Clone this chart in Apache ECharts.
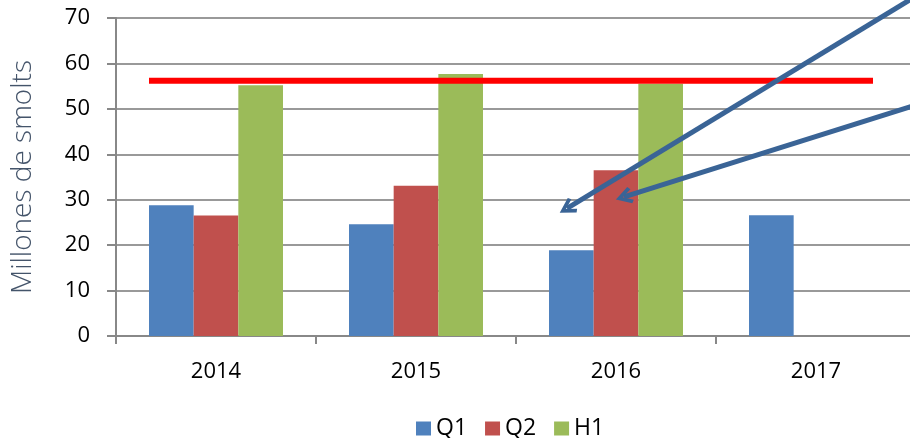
<!DOCTYPE html>
<html>
<head>
<meta charset="utf-8">
<script src="https://cdn.jsdelivr.net/npm/echarts@6/dist/echarts.min.js"></script>
<style>
html,body{margin:0;padding:0;background:#fff;}
#chart{width:910px;height:438px;}
</style>
</head>
<body>
<div id="chart"></div>
<script>
const categories = ['2014', '2015', '2016', '2017'];
const q1 = [28.8, 24.6, 18.9, 26.6];
const q2 = [26.5, 33.1, 36.5, null];
const h1 = [55.2, 57.7, 55.5, null];
// reference line (x in category-index units on hidden value axis)
const refLine = [[0.165, 56.2], [3.785, 56.2]];
// annotation arrows: [start, tip]
const arrow1 = [[4.07, 76.7], [2.255, 28.1]];
const arrow2 = [[4.07, 51.8], [2.54, 30.6]];
const yTicks = { min: 0, max: 70, interval: 10 };

const FONT = '"Open Sans", sans-serif';
const chevron = 'path://M0,12 L10,0 L20,12 L16.5,14 L10,6 L3.5,14 Z';

const chart = echarts.init(document.getElementById('chart'));
chart.setOption({
  animation: false,
  backgroundColor: '#ffffff',
  grid: { left: 116, top: 18, width: 800, height: 318, containLabel: false, outerBoundsMode: 'none' },
  legend: {
    data: ['Q1', 'Q2', 'H1'],
    top: 412, left: 411,
    itemWidth: 15, itemHeight: 14, itemGap: 18,
    icon: 'rect',
    textStyle: { fontFamily: FONT, fontSize: 23, color: '#000' }
  },
  xAxis: [{
    type: 'category',
    data: categories,
    axisLine: { lineStyle: { color: '#888', width: 2 } },
    axisTick: { show: true, length: 8, lineStyle: { color: '#888', width: 2 } },
    axisLabel: { fontFamily: FONT, fontSize: 22, color: '#000', margin: 25 },
    splitLine: { show: false }
  }, {
    type: 'value', min: 0, max: 4, show: false, position: 'bottom'
  }],
  yAxis: {
    type: 'value',
    min: yTicks.min, max: yTicks.max, interval: yTicks.interval,
    name: 'Millones de smolts',
    nameLocation: 'middle',
    nameGap: 79,
    nameTextStyle: { fontFamily: FONT, fontWeight: 300, fontSize: 28, color: '#44546A' },
    axisLine: { show: true, lineStyle: { color: '#888', width: 2 } },
    axisTick: { show: true, length: 9, lineStyle: { color: '#888', width: 2 } },
    axisLabel: { fontFamily: FONT, fontSize: 22, color: '#000', margin: 26 },
    splitLine: { show: true, lineStyle: { color: '#999', width: 2 } }
  },
  series: [
    { name: 'Q1', type: 'bar', data: q1, barGap: '0%', barCategoryGap: '33%',
      itemStyle: { color: '#4F81BD' } },
    { name: 'Q2', type: 'bar', data: q2, barGap: '0%', barCategoryGap: '33%',
      itemStyle: { color: '#C0504D' } },
    { name: 'H1', type: 'bar', data: h1, barGap: '0%', barCategoryGap: '33%',
      itemStyle: { color: '#9BBB59' } },
    { name: 'ref', type: 'line', xAxisIndex: 1, yAxisIndex: 0, data: refLine,
      symbol: 'none', clip: false, z: 5,
      lineStyle: { color: '#FF0000', width: 6, cap: 'butt' } },
    { name: 'arrows', type: 'lines', coordinateSystem: 'cartesian2d',
      xAxisIndex: 1, yAxisIndex: 0, clip: false, z: 6, silent: true,
      symbol: ['none', chevron], symbolSize: [26, 17],
      lineStyle: { color: '#3A6496', width: 5, opacity: 1 },
      itemStyle: { color: '#3A6496' },
      data: [ { coords: arrow1 }, { coords: arrow2 } ]
    }
  ]
});
</script>
</body>
</html>
